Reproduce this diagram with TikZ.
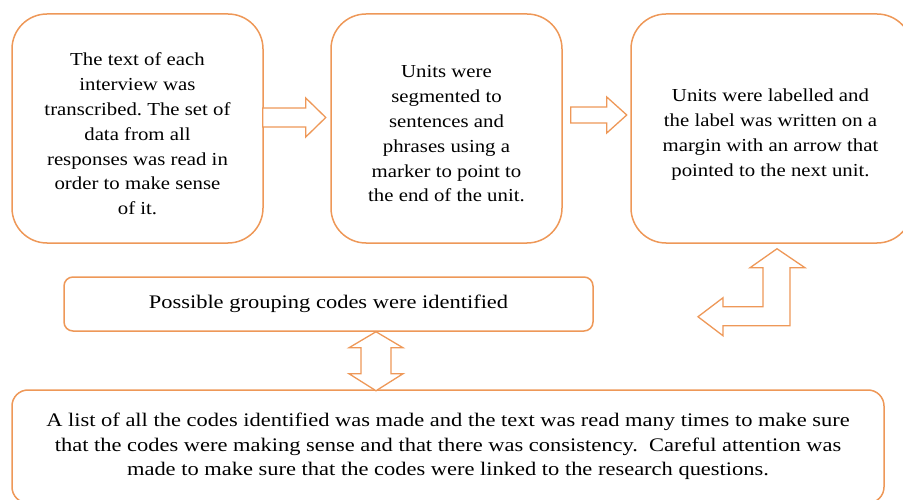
\documentclass[tikz,border=0pt]{standalone}
\usepackage{fontspec}
\setmainfont{Liberation Serif}
\newfontfamily\topfont[FakeStretch=1.137]{Liberation Serif}
\newfontfamily\lowfont[FakeStretch=1.17]{Liberation Serif}
\usetikzlibrary{calc}
\usetikzlibrary{positioning}
\definecolor{boxorange}{RGB}{238,152,88}
\frenchspacing
\tikzset{
    stagebox/.style={draw=boxorange, line width=1.5pt, rounded corners=35pt, fill=white},
    flatbox/.style={draw=boxorange, line width=1.5pt, rounded corners=9pt, fill=white, align=center, font=\lowfont\fontsize{19.2}{24.5}\selectfont},
    boxtext/.style={align=center, font=\topfont\fontsize{18.3}{24.8}\selectfont, inner sep=0pt},
    blockarr/.style={draw=boxorange, line width=1.3pt, fill=white, line join=miter}
}

\begin{document}
\begin{tikzpicture}[x=1pt,y=-1pt]
    \useasboundingbox (0,0) rectangle (903,500);
    \clip (0,0) rectangle (903,500);
    % top row
    \node[stagebox, minimum width=251pt, minimum height=229pt] (b1) at (137.5,128.5) {};
    \node[stagebox, minimum width=231pt, minimum height=229pt] (b2) at (446.5,128.5) {};
    \node[stagebox, minimum width=281pt, minimum height=229pt] (b3) at (771.5,128.5) {};
    \node[boxtext] (t1) at ([yshift=-5.5pt]b1.center) {The text of each\\interview was\\transcribed. The set of\\data from all\\responses was read in\\order to make sense\\of it.};
    \node[boxtext] (t2) at ([yshift=-5.5pt]b2.center) {Units were\\segmented to\\sentences and\\phrases using a\\marker to point to\\the end of the unit.};
    \node[boxtext] (t3) at ([yshift=-6pt,xshift=-1pt]b3.center) {Units were labelled and\\the label was written on a\\margin with an arrow that\\pointed to the next unit.};
    % lower boxes
    \node[flatbox, minimum width=529pt, minimum height=54pt] (b4) at (328.5,304) {Possible grouping codes were identified};
    \node[flatbox, rounded corners=16pt, minimum width=872pt, minimum height=113pt] (b5) at (448,446.5) {A list of all the codes identified was made and the text was read many times to make sure\\that the codes were making sense and that there was consistency.\ \ Careful attention was\\made to make sure that the codes were linked to the research questions.};
    % block arrows
    \draw[blockarr] ([shift={(-1,-20.5)}]b1.east) -- ++(43,0) -- ++(0,-10) -- ++(20,19.5) -- ++(-20,19.5) -- ++(0,-10) -- ++(-43,0) -- cycle;
    \draw[blockarr] ([shift={(8,-21.5)}]b2.east) -- ++(36,0) -- ++(0,-10) -- ++(20,18) -- ++(-20,18) -- ++(0,-10) -- ++(-36,0) -- cycle;
    \draw[blockarr] ([shift={(5.5,5)}]b3.south) -- ++(28,19) -- ++(-15,0) -- ++(0,58) -- ++(-67,0) -- ++(0,10) -- ++(-25,-19) -- ++(25,-19) -- ++(0,9) -- ++(40,0) -- ++(0,-39) -- ++(-13,0) -- cycle;
    \draw[blockarr] ([xshift=47.5pt]b4.south) -- ++(27,16) -- ++(-12,0) -- ++(0,26) -- ++(12,0) -- ++(-27,17) -- ++(-27,-17) -- ++(12,0) -- ++(0,-26) -- ++(-12,0) -- cycle;
\end{tikzpicture}
\end{document}
